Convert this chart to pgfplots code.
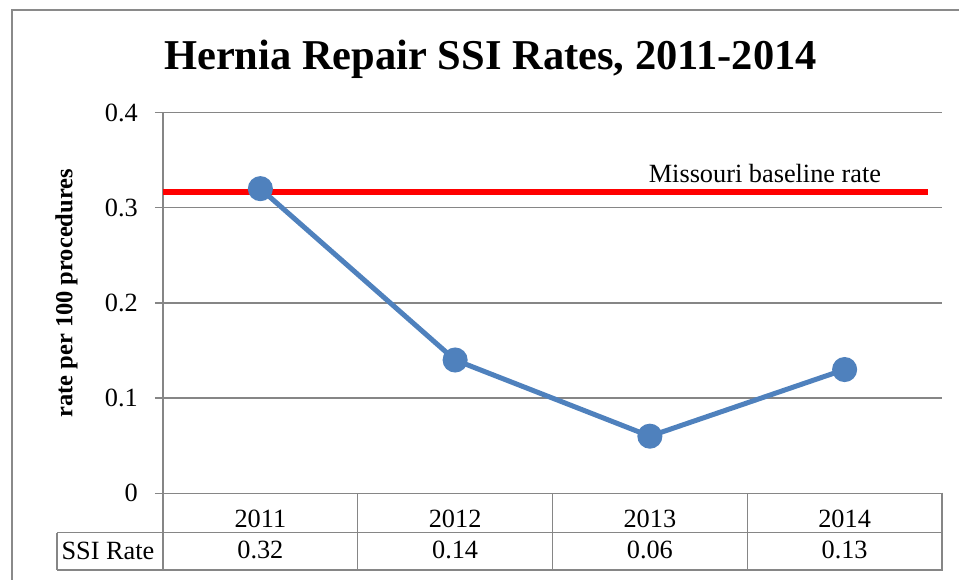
\documentclass[border=0pt]{standalone}
\usepackage{fontspec}
\setmainfont{Liberation Serif}
\usepackage{pgfplots}
\usepackage{pgfplotstable}
\pgfplotsset{compat=1.18}

\definecolor{ssiblue}{HTML}{4F81BD}
\definecolor{gridgray}{HTML}{868686}
\definecolor{framegray}{HTML}{8A8A8A}

% one row per year: position, year, SSI rate
\pgfplotstableread{
x year rate
1 2011 0.32
2 2012 0.14
3 2013 0.06
4 2014 0.13
}\ssidata

\newcommand{\regfont}{\rmfamily\fontsize{26.3bp}{30bp}\selectfont}

\begin{document}
\begin{tikzpicture}
\path[use as bounding box] (0,0) rectangle (959bp,580bp);
% outer chart frame (left and top edges only are visible)
\draw[framegray, line width=2bp] (12bp,0) -- (12bp,570bp) -- (959bp,570bp);

\node[anchor=base, font=\bfseries\fontsize{42.5bp}{48bp}\selectfont]
  at (490.5bp,510bp) {Hernia Repair SSI Rates, 2011-2014};

\begin{axis}[
  at={(163bp,86.7bp)}, anchor=south west,
  scale only axis, width=779bp, height=380.8bp,
  xmin=0.5, xmax=4.5, ymin=0, ymax=0.4,
  clip=false,
  axis x line=bottom, axis y line=left, axis line style={-, gridgray, line width=1.3bp},
  xtick={1,2,3,4}, xticklabels={2011,2012,2013,2014},
  xtick style={draw=none},
  xticklabel style={anchor=base, yshift=-29.7bp, font=\regfont},
  ytick={0,0.1,0.2,0.3,0.4},
  ytick align=outside, major tick length=8bp,
  ytick style={gridgray, line width=1.3bp},
  yticklabel style={anchor=east, inner sep=0pt, xshift=-17bp, font=\regfont,
    /pgf/number format/fixed, /pgf/number format/precision=1},
  /pgf/number format/assume math mode=true,
  ymajorgrids, major grid style={gridgray, line width=1.3bp},
  ylabel={rate per 100 procedures},
  every axis y label/.style={at={(axis description cs:-0.1239,0.525)}, rotate=90,
    anchor=center, font=\bfseries\fontsize{24.5bp}{28bp}\selectfont},
]
\addplot[ssiblue, line width=5bp, mark=*, mark size=10bp,
  mark options={draw=none, fill=ssiblue}] table[x=x, y=rate] {\ssidata};
\addplot[red, line width=6bp, line cap=butt] coordinates {(0.5,0.316) (4.428,0.316)};
\node[anchor=base, font=\regfont] at (axis cs:3.591,0.3267) {Missouri baseline rate};
% values row of the data table
\addplot[draw=none, mark=none, nodes near coords, point meta=explicit symbolic,
  nodes near coords style={anchor=base, inner sep=0pt, font=\regfont}]
  table[x=x, y expr=-0.0689, meta=rate] {\ssidata};
\end{axis}

% data table grid below the plot
\begin{scope}[gridgray, line width=1.3bp]
\draw (57bp,47.3bp) -- (942bp,47.3bp);
\draw (57bp,10bp) -- (942bp,10bp);
\draw (57bp,47.3bp) -- (57bp,10bp);
\draw (163bp,86.7bp) -- (163bp,10bp);
\draw (357.75bp,86.7bp) -- (357.75bp,10bp);
\draw (552.5bp,86.7bp) -- (552.5bp,10bp);
\draw (747.25bp,86.7bp) -- (747.25bp,10bp);
\draw[line width=2bp] (942bp,87.3bp) -- (942bp,9.4bp);
\end{scope}
\node[anchor=base, font=\regfont] at (108bp,21bp) {SSI Rate};
\end{tikzpicture}
\end{document}
